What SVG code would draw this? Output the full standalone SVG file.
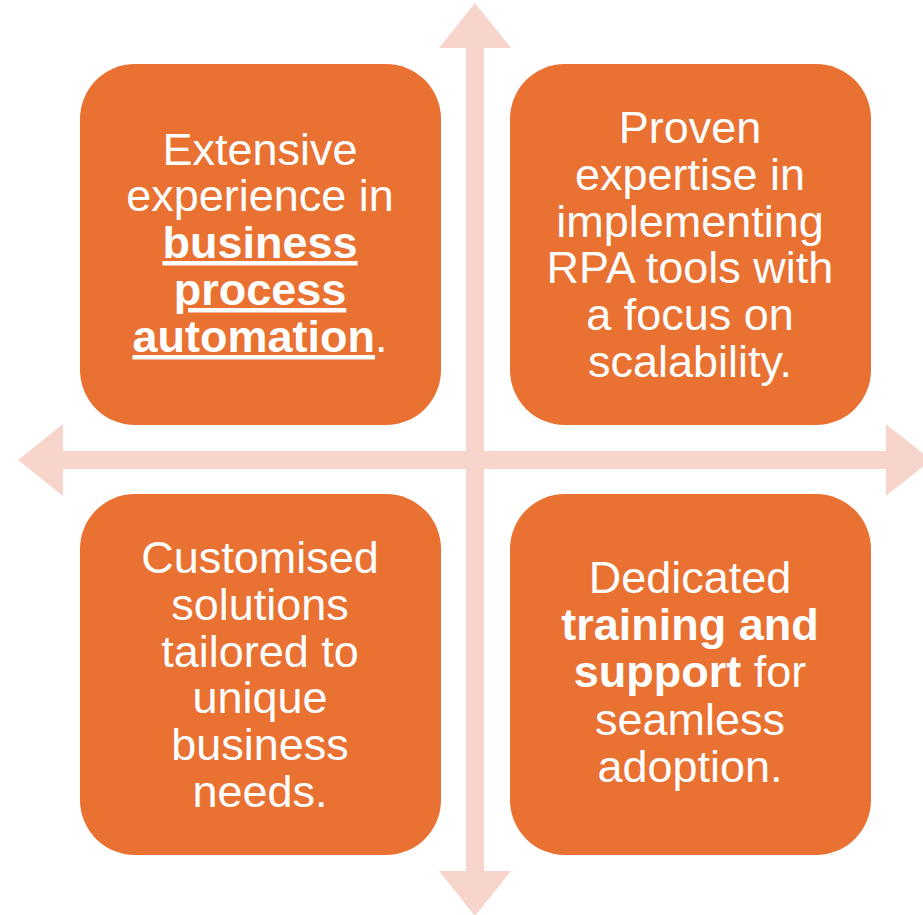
<svg xmlns="http://www.w3.org/2000/svg" width="923" height="915" viewBox="0 0 923 915">
<style>
.box{fill:#E97132;}
.arrow{fill:#F7D5CC;}
text{font-family:"Liberation Sans",Arial,sans-serif;font-size:45px;fill:#FFFFFF;text-anchor:middle;}
.b{font-weight:bold;}
.u{text-decoration:underline;}
</style>
<rect width="923" height="915" fill="#FFFFFF"/>
<g id="connectors">
<polygon class="arrow" points="466,48 439,48 475,3 511,48 484,48 484,871 511,871 475,916 439,871 466,871"/>
<polygon class="arrow" points="63,451 63,424 18,460 63,496 63,469 886,469 886,496 931,460 886,424 886,451"/>
</g>
<g id="node-tl">
<rect class="box" x="80" y="64" width="361" height="361" rx="55" ry="55"/>
<text x="260" y="165">Extensive</text>
<text x="260" y="211">experience in</text>
<text x="260" y="258"><tspan class="b u">business</tspan></text>
<text x="260" y="305"><tspan class="b u">process</tspan></text>
<text x="260" y="352"><tspan class="b u">automation</tspan>.</text>
</g>
<g id="node-tr">
<rect class="box" x="510" y="64" width="361" height="361" rx="55" ry="55"/>
<text x="690" y="143">Proven</text>
<text x="690" y="190">expertise in</text>
<text x="690" y="237">implementing</text>
<text x="690" y="283">RPA tools with</text>
<text x="690" y="330">a focus on</text>
<text x="690" y="377">scalability.</text>
</g>
<g id="node-bl">
<rect class="box" x="80" y="494" width="361" height="361" rx="55" ry="55"/>
<text x="260" y="573">Customised</text>
<text x="260" y="620">solutions</text>
<text x="260" y="667">tailored to</text>
<text x="260" y="713">unique</text>
<text x="260" y="760">business</text>
<text x="260" y="807">needs.</text>
</g>
<g id="node-br">
<rect class="box" x="510" y="494" width="361" height="361" rx="55" ry="55"/>
<text x="690" y="593">Dedicated</text>
<text x="690" y="640"><tspan class="b">training and</tspan></text>
<text x="690" y="687"><tspan class="b">support</tspan> for</text>
<text x="690" y="735">seamless</text>
<text x="690" y="782">adoption.</text>
</g>
</svg>
